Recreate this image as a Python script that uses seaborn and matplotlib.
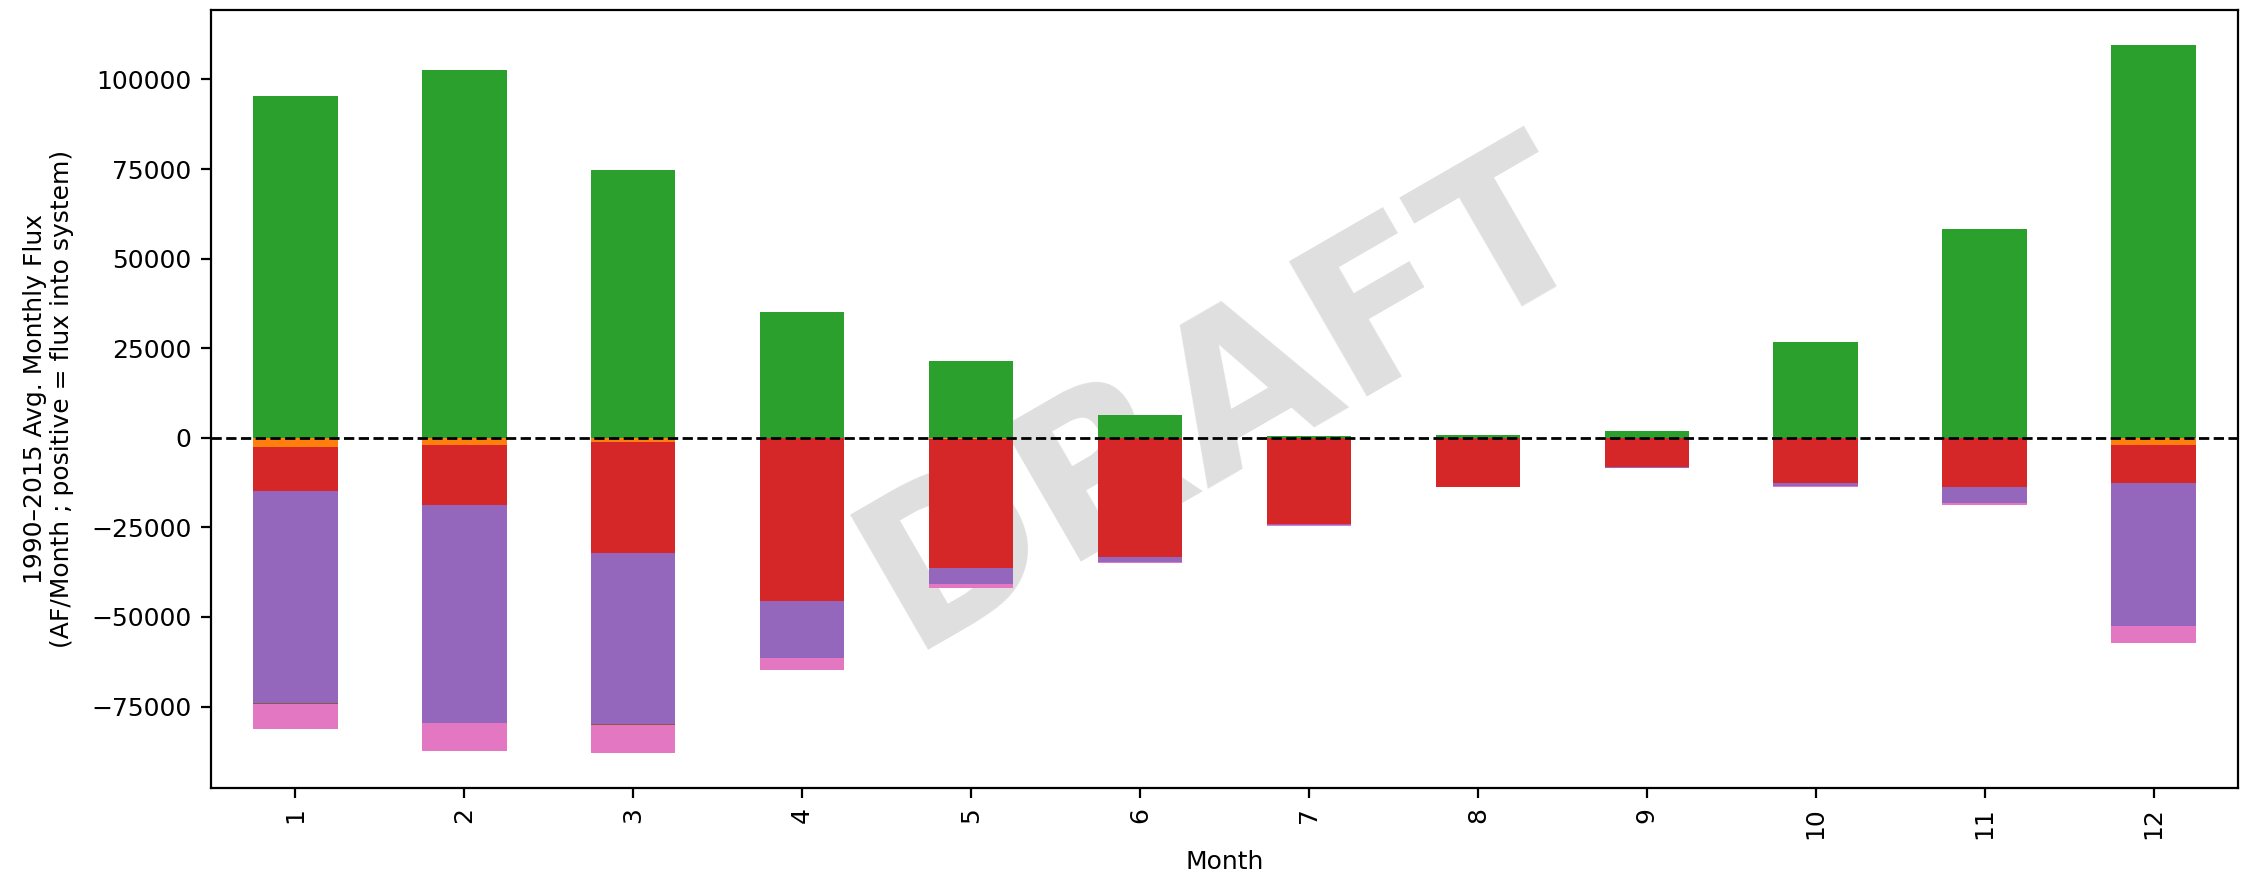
import numpy as np
import pandas as pd
import matplotlib
matplotlib.use("Agg")
import matplotlib.pyplot as plt
import seaborn as sns

# Monthly water-budget components, 1990–2015 averages (AF/month)
months = ["1", "2", "3", "4", "5", "6", "7", "8", "9", "10", "11", "12"]

surface_inflow = [95500, 102700, 74600, 35000, 21500, 6400, 450, 850, 1950, 26600, 58300, 109500]
storage_loss = [-2500, -1950, -1300, -150, -250, -100, 0, -100, -100, -100, -150, -1950]
diversions = [-12400, -16900, -30750, -45300, -36200, -33300, -23950, -13500, -7950, -12400, -13500, -10580]
outflow = [-59000, -60700, -47800, -15900, -4450, -1130, -450, 0, -300, -1020, -4460, -40070]
seepage = [-300, 0, -300, 0, 0, 0, 0, 0, 0, 0, 0, 0]
pumping = [-7100, -7740, -7700, -3340, -1000, -450, -150, -250, -200, -280, -550, -4750]

palette = sns.color_palette("tab10")
colors = {
    "surface_inflow": palette[2],
    "storage_loss": palette[1],
    "diversions": palette[3],
    "outflow": palette[4],
    "seepage": palette[5],
    "pumping": palette[6],
}

df = pd.DataFrame({
    "Month": months,
    "surface_inflow": surface_inflow,
    "storage_loss": storage_loss,
    "diversions": diversions,
    "outflow": outflow,
    "seepage": seepage,
    "pumping": pumping,
})

plt.rcParams["font.family"] = ["DejaVu Sans"]
plt.rcParams["font.size"] = 9

fig = plt.figure(figsize=(2242 / 200, 877 / 200), dpi=200)
ax = fig.add_axes([0.0941, 0.1015, 0.9041, 0.8871])

# Negative components stack downward from zero: draw running totals,
# deepest first, so each shallower layer sits on top of the next.
neg_order = ["storage_loss", "diversions", "outflow", "seepage", "pumping"]
cum = np.cumsum(np.array([df[c].values for c in neg_order]), axis=0)
for name, totals in reversed(list(zip(neg_order, cum))):
    sns.barplot(x=df["Month"], y=totals, color=colors[name], width=0.5,
                saturation=1, errorbar=None, ax=ax, order=months)

sns.barplot(x=df["Month"], y=df["surface_inflow"], color=colors["surface_inflow"],
            width=0.5, saturation=1, errorbar=None, ax=ax, order=months)

ax.axhline(0, color="black", linestyle="--", linewidth=1)

ax.text(0.5, 0.5, "DRAFT", transform=ax.transAxes, fontsize=77,
        fontweight="bold", color="gray", alpha=0.25, rotation=30,
        ha="center", va="center", zorder=0)

ax.set_xlim(-0.5, 11.5)
ax.margins(y=0.05)
ax.autoscale(axis="y")
ax.tick_params(axis="x", labelrotation=90)
ax.set_xlabel("Month")
ax.set_ylabel("1990–2015 Avg. Monthly Flux\n(AF/Month ; positive = flux into system)",
              labelpad=6)

fig.savefig("out.png", dpi=200)
